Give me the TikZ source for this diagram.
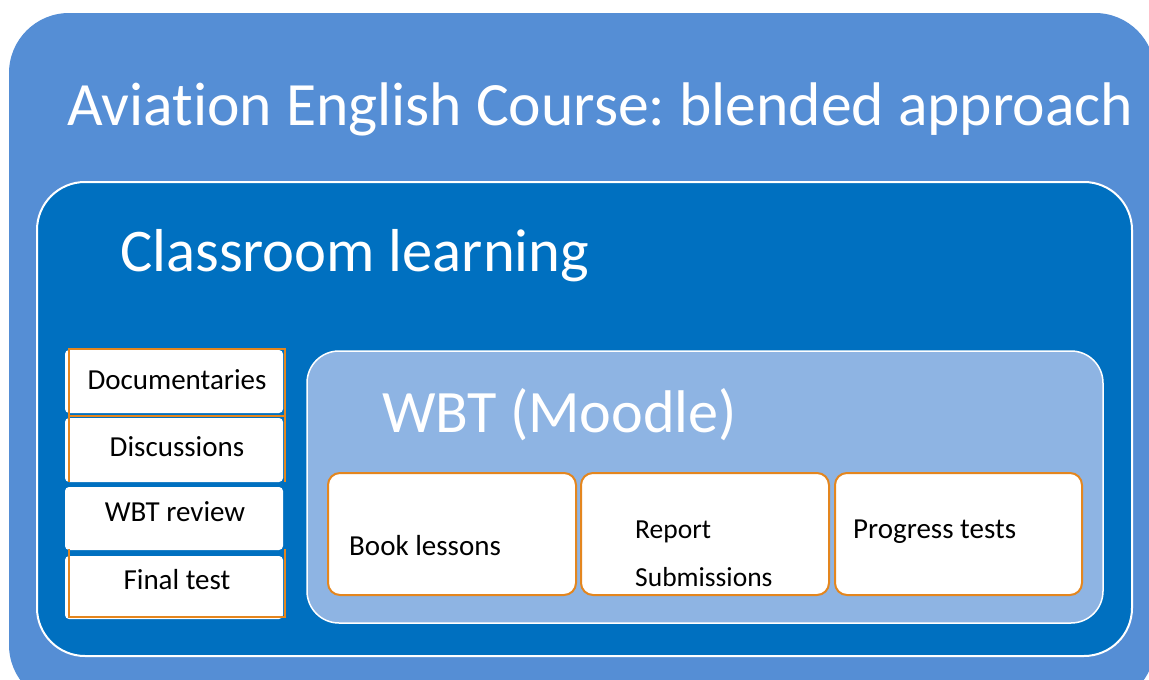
\documentclass[tikz,border=0pt]{standalone}
\usepackage{fontspec}
\setmainfont[Ligatures=NoCommon]{Carlito}
\usepackage{tikz}
\definecolor{outerblue}{RGB}{85,142,213}
\definecolor{roomblue}{RGB}{0,112,192}
\definecolor{wbtblue}{RGB}{142,180,227}
\definecolor{boxorange}{RGB}{228,134,30}
\frenchspacing

\begin{document}
\begin{tikzpicture}[x=1pt,y=-1pt,
    head/.style={text=white,inner sep=0pt,anchor=base west,font=\fontsize{61.6}{70}\selectfont},
    item/.style={inner sep=0pt,anchor=base,font=\fontsize{29}{34}\selectfont},
    task/.style={inner sep=0pt,anchor=base west,font=\fontsize{29}{34}\selectfont}]
          \useasboundingbox (0,0) rectangle (1149,680);
          \clip (0,0) rectangle (1149,680);
          % frames
          \fill[outerblue,rounded corners=60] (9,13) rectangle (1155,705);
          \filldraw[fill=roomblue,draw=white,line width=2,rounded corners=48] (37,182) rectangle (1132,656);
          \filldraw[fill=wbtblue,draw=white,line width=1.5,rounded corners=32] (307,351) rectangle (1103,623);
          % classroom activities
          \fill[white,rounded corners=4] (65,350) rectangle (283,413);
          \fill[white,rounded corners=4] (65,418) rectangle (283,482);
          \fill[white,rounded corners=4] (65,487) rectangle (283,550);
          \fill[white,rounded corners=4] (65,556) rectangle (283,619);
          \draw[boxorange,line width=2.5] (69,482) -- (69,349) -- (285,349) -- (285,482);
          \draw[boxorange,line width=2.5] (69,416) -- (285,416);
          \draw[boxorange,line width=2.5] (69,549) -- (69,617) -- (285,617) -- (285,549);
          % moodle activities
          \filldraw[fill=white,draw=boxorange,line width=2,rounded corners=12] (328,473) rectangle (576,595);
          \filldraw[fill=white,draw=boxorange,line width=2,rounded corners=12] (581,473) rectangle (829,595);
          \filldraw[fill=white,draw=boxorange,line width=2,rounded corners=12] (835,473) rectangle (1082,595);
          % texts
          \node[head] (title) at (67,125) {Aviation English Course: blended approach};
          \node[head,font=\fontsize{60.6}{70}\selectfont] (room) at (120,271) {Classroom learning};
          \node[head,font=\fontsize{60.2}{70}\selectfont] (wbt) at (382,432) {WBT (Moodle)};
          \node[item] (docs) at (177,389) {Documentaries};
          \node[item] (disc) at (177,456) {Discussions};
          \node[item] (review) at (175,521) {WBT review};
          \node[item] (final) at (177,589) {Final test};
          \node[task] (book) at (349,555) {Book lessons};
          \node[task,font=\fontsize{27.5}{32}\selectfont] (report) at (635,538) {Report};
          \node[task,font=\fontsize{27.5}{32}\selectfont] (subm) at (635,586) {Submissions};
          \node[task] (prog) at (853,538) {Progress tests};
        \end{tikzpicture}
\end{document}
